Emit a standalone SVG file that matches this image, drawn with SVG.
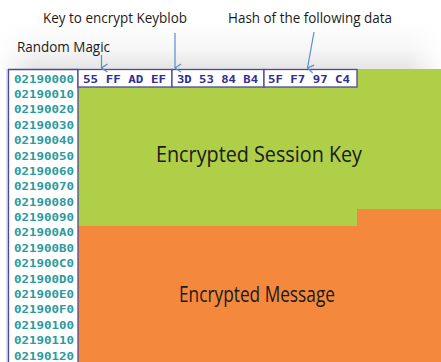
<svg xmlns="http://www.w3.org/2000/svg" width="441" height="362" viewBox="0 0 441 362">
  <defs>
    <linearGradient id="haze" x1="0" y1="0" x2="0" y2="1">
      <stop offset="0" stop-color="#ffffff"/>
      <stop offset="0.55" stop-color="#f7f7f7"/>
      <stop offset="1" stop-color="#e4e4e4"/>
    </linearGradient>
    <linearGradient id="hazeSide" x1="0" y1="0" x2="1" y2="0">
      <stop offset="0" stop-color="#ffffff" stop-opacity="0.9"/>
      <stop offset="0.08" stop-color="#ffffff" stop-opacity="0"/>
      <stop offset="0.92" stop-color="#ffffff" stop-opacity="0"/>
      <stop offset="1" stop-color="#ffffff" stop-opacity="0.9"/>
    </linearGradient>
    <marker id="vhead" viewBox="0 0 10 10" refX="5" refY="9" markerWidth="10" markerHeight="10" markerUnits="userSpaceOnUse" orient="auto-start-reverse">
      <path d="M1,3 L5,9 L9,3" fill="none" stroke="#5b8bd0" stroke-width="1.2"/>
    </marker>
  </defs>
  <style>
    .label { font-family: "Open Sans", "Noto Sans", "Liberation Sans", sans-serif; font-size: 14px; fill: #1a1a1a; }
    .big { font-family: "Open Sans", "Noto Sans", "Liberation Sans", sans-serif; font-size: 21px; fill: #1a1a1a; }
    .addr { font-family: "DejaVu Sans Mono", "Liberation Mono", monospace; font-size: 11px; font-weight: bold; fill: #2a9a9c; }
    .byte { font-family: "DejaVu Sans Mono", "Liberation Mono", monospace; font-size: 11px; font-weight: bold; fill: #2f2f8e; }
    .frame { fill: none; stroke: #4a4a9a; stroke-width: 1.3; }
    .conn { fill: none; stroke: #5b8bd0; stroke-width: 1.2; marker-end: url(#vhead); }
  </style>

  <!-- page background with soft shading above the dump -->
  <rect x="0" y="0" width="441" height="362" fill="#ffffff"/>
  <rect x="0" y="20" width="441" height="50" fill="url(#haze)"/>
  <rect x="0" y="20" width="441" height="50" fill="url(#hazeSide)"/>

  <!-- data regions -->
  <g id="session-key-region">
    <polygon points="78,69 441,69 441,209 357,209 357,226 78,226" fill="#aecf47"/>
    <text class="big" x="259" y="162" text-anchor="middle" textLength="206" lengthAdjust="spacingAndGlyphs">Encrypted Session Key</text>
  </g>
  <g id="message-region">
    <polygon points="78,226 357,226 357,209 441,209 441,362 78,362" fill="#f4893e"/>
    <text class="big" x="257" y="302" text-anchor="middle" textLength="156" lengthAdjust="spacingAndGlyphs">Encrypted Message</text>
  </g>

  <!-- address column -->
  <g id="address-column">
    <rect x="8" y="69" width="70" height="300" fill="#ffffff"/>
    <line x1="7" y1="69" x2="7" y2="362" stroke="#b8b8e0" stroke-width="1"/>
    <line x1="8.5" y1="69" x2="8.5" y2="362" stroke="#4a4a9a" stroke-width="1.3"/>
    <line x1="78" y1="69" x2="78" y2="362" stroke="#4a4a9a" stroke-width="1.3"/>
    <line x1="8" y1="69.5" x2="78" y2="69.5" stroke="#4a4a9a" stroke-width="1.3"/>
    <text class="addr" x="14" y="82.5" textLength="60" lengthAdjust="spacingAndGlyphs">02190000</text>
    <text class="addr" x="14" y="97.9" textLength="60" lengthAdjust="spacingAndGlyphs">02190010</text>
    <text class="addr" x="14" y="113.3" textLength="60" lengthAdjust="spacingAndGlyphs">02190020</text>
    <text class="addr" x="14" y="128.7" textLength="60" lengthAdjust="spacingAndGlyphs">02190030</text>
    <text class="addr" x="14" y="144.1" textLength="60" lengthAdjust="spacingAndGlyphs">02190040</text>
    <text class="addr" x="14" y="159.5" textLength="60" lengthAdjust="spacingAndGlyphs">02190050</text>
    <text class="addr" x="14" y="174.8" textLength="60" lengthAdjust="spacingAndGlyphs">02190060</text>
    <text class="addr" x="14" y="190.2" textLength="60" lengthAdjust="spacingAndGlyphs">02190070</text>
    <text class="addr" x="14" y="205.6" textLength="60" lengthAdjust="spacingAndGlyphs">02190080</text>
    <text class="addr" x="14" y="221" textLength="60" lengthAdjust="spacingAndGlyphs">02190090</text>
    <text class="addr" x="14" y="236.4" textLength="60" lengthAdjust="spacingAndGlyphs">021900A0</text>
    <text class="addr" x="14" y="251.8" textLength="60" lengthAdjust="spacingAndGlyphs">021900B0</text>
    <text class="addr" x="14" y="267.2" textLength="60" lengthAdjust="spacingAndGlyphs">021900C0</text>
    <text class="addr" x="14" y="282.6" textLength="60" lengthAdjust="spacingAndGlyphs">021900D0</text>
    <text class="addr" x="14" y="298" textLength="60" lengthAdjust="spacingAndGlyphs">021900E0</text>
    <text class="addr" x="14" y="313.3" textLength="60" lengthAdjust="spacingAndGlyphs">021900F0</text>
    <text class="addr" x="14" y="328.7" textLength="60" lengthAdjust="spacingAndGlyphs">02190100</text>
    <text class="addr" x="14" y="344.1" textLength="60" lengthAdjust="spacingAndGlyphs">02190110</text>
    <text class="addr" x="14" y="359.5" textLength="60" lengthAdjust="spacingAndGlyphs">02190120</text>
  </g>

  <!-- header bytes -->
  <g id="magic-bytes">
    <rect x="78" y="69.5" width="94" height="17.5" fill="#ffffff"/>
    <rect x="78" y="69.5" width="94" height="17.5" class="frame"/>
    <text class="byte" x="83" y="82.5" textLength="83" lengthAdjust="spacingAndGlyphs">55 FF AD EF</text>
  </g>
  <g id="keyblob-key-bytes">
    <rect x="172" y="69.5" width="92" height="17.5" fill="#ffffff"/>
    <rect x="172" y="69.5" width="92" height="17.5" class="frame"/>
    <text class="byte" x="177" y="82.5" textLength="81" lengthAdjust="spacingAndGlyphs">3D 53 84 B4</text>
  </g>
  <g id="hash-bytes">
    <rect x="264" y="69.5" width="93" height="17.5" fill="#ffffff"/>
    <rect x="264" y="69.5" width="93" height="17.5" class="frame"/>
    <text class="byte" x="268" y="82.5" textLength="82" lengthAdjust="spacingAndGlyphs">5F F7 97 C4</text>
  </g>

  <!-- captions -->
  <g id="label-magic">
    <text class="label" x="17" y="52" textLength="93" lengthAdjust="spacingAndGlyphs">Random Magic</text>
  </g>
  <g id="label-key">
    <text class="label" x="43" y="23" textLength="144" lengthAdjust="spacingAndGlyphs">Key to encrypt Keyblob</text>
  </g>
  <g id="label-hash">
    <text class="label" x="228" y="23" textLength="164" lengthAdjust="spacingAndGlyphs">Hash of the following data</text>
  </g>

  <!-- pointers from captions to bytes -->
  <g id="connectors">
    <path class="conn" d="M101.5,55 L101.5,68"/>
    <path class="conn" d="M175,33 L175,68"/>
    <path class="conn" d="M314,32 L307.5,68"/>
  </g>
</svg>
